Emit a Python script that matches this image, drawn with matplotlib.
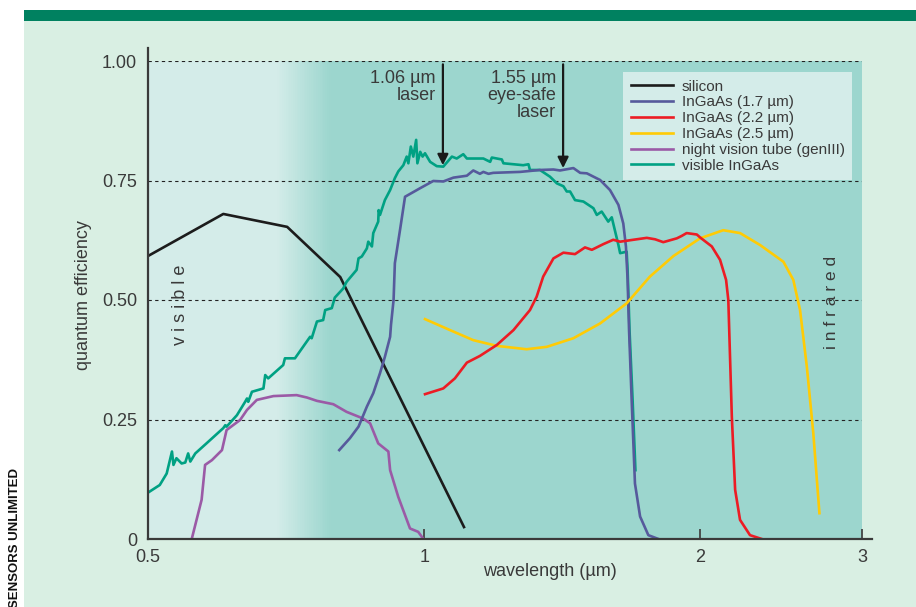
import matplotlib
matplotlib.use("Agg")
import matplotlib.pyplot as plt
import numpy as np
from matplotlib.patches import Rectangle
from matplotlib.colors import LinearSegmentedColormap
from matplotlib.ticker import FixedLocator, NullLocator

plt.rcParams['font.family'] = ['Liberation Sans', 'DejaVu Sans']

# wavelengths in um, quantum efficiency as fraction
silicon_wl = [0.500, 0.604, 0.709, 0.810, 1.105]
silicon_qe = [0.592, 0.680, 0.653, 0.548, 0.025]

ingaas17_wl = [0.808, 0.830, 0.848, 0.866, 0.880, 0.895, 0.906, 0.918, 0.920, 0.926,
               0.929, 0.941, 0.953, 0.990, 1.023, 1.049, 1.076, 1.113, 1.131, 1.150,
               1.160, 1.175, 1.189, 1.272, 1.337, 1.383, 1.406, 1.454, 1.479, 1.504,
               1.555, 1.594, 1.628, 1.648, 1.659, 1.666, 1.672, 1.683, 1.697, 1.719,
               1.755, 1.800]
ingaas17_qe = [0.186, 0.211, 0.235, 0.277, 0.305, 0.347, 0.381, 0.423, 0.448, 0.500,
               0.577, 0.646, 0.716, 0.734, 0.749, 0.748, 0.756, 0.760, 0.771, 0.764,
               0.768, 0.764, 0.766, 0.768, 0.772, 0.773, 0.771, 0.776, 0.766, 0.765,
               0.751, 0.730, 0.699, 0.660, 0.612, 0.542, 0.437, 0.291, 0.116, 0.047,
               0.008, 0.000]

ingaas22_wl = [1.002, 1.049, 1.080, 1.113, 1.150, 1.200, 1.251, 1.304, 1.326, 1.348,
               1.383, 1.418, 1.460, 1.497, 1.523, 1.568, 1.607, 1.635, 1.690, 1.748,
               1.785, 1.822, 1.885, 1.908, 1.932, 1.982, 1.998, 2.058, 2.101, 2.133,
               2.145, 2.164, 2.182, 2.209, 2.265, 2.333]
ingaas22_qe = [0.303, 0.315, 0.336, 0.369, 0.383, 0.406, 0.437, 0.479, 0.507, 0.549,
               0.587, 0.599, 0.596, 0.610, 0.605, 0.617, 0.626, 0.622, 0.626, 0.630,
               0.627, 0.621, 0.629, 0.634, 0.640, 0.637, 0.631, 0.612, 0.584, 0.542,
               0.500, 0.256, 0.103, 0.040, 0.008, 0.000]

ingaas25_wl = [1.002, 1.067, 1.131, 1.200, 1.293, 1.360, 1.454, 1.555, 1.662, 1.762,
               1.869, 1.998, 2.118, 2.209, 2.323, 2.463, 2.525, 2.568, 2.612, 2.655,
               2.696]
ingaas25_qe = [0.460, 0.437, 0.416, 0.404, 0.397, 0.402, 0.420, 0.451, 0.493, 0.549,
               0.592, 0.629, 0.646, 0.640, 0.615, 0.580, 0.542, 0.479, 0.361, 0.221,
               0.054]

nightvision_wl = [0.558, 0.572, 0.577, 0.587, 0.602, 0.609, 0.630, 0.641, 0.657, 0.685,
                  0.726, 0.745, 0.764, 0.796, 0.823, 0.858, 0.873, 0.891, 0.914, 0.918,
                  0.937, 0.965, 0.985, 0.998]
nightvision_qe = [0.000, 0.082, 0.155, 0.165, 0.186, 0.228, 0.249, 0.270, 0.291, 0.299,
                  0.301, 0.296, 0.289, 0.282, 0.266, 0.252, 0.242, 0.200, 0.183, 0.144,
                  0.088, 0.022, 0.015, 0.000]

visible_wl = [0.500, 0.515, 0.524, 0.531, 0.533, 0.537, 0.544, 0.549, 0.553, 0.556,
              0.563, 0.579, 0.604, 0.607, 0.609, 0.625, 0.638, 0.641, 0.643, 0.649,
              0.668, 0.671, 0.676, 0.702, 0.705, 0.723, 0.751, 0.754, 0.764, 0.776,
              0.780, 0.793, 0.799, 0.816, 0.823, 0.844, 0.848, 0.855, 0.866, 0.869,
              0.877, 0.880, 0.891, 0.892, 0.895, 0.906, 0.918, 0.929, 0.937, 0.949,
              0.957, 0.961, 0.967, 0.973, 0.980, 0.983, 0.990, 0.996, 1.002, 1.015,
              1.032, 1.049, 1.072, 1.085, 1.103, 1.113, 1.131, 1.160, 1.180, 1.185,
              1.215, 1.220, 1.251, 1.282, 1.299, 1.304, 1.337, 1.371, 1.395, 1.418,
              1.430, 1.442, 1.460, 1.491, 1.529, 1.542, 1.561, 1.587, 1.601, 1.628,
              1.635, 1.662, 1.666, 1.674, 1.687, 1.699]
visible_qe = [0.097, 0.113, 0.137, 0.183, 0.155, 0.169, 0.158, 0.160, 0.179, 0.162,
              0.179, 0.200, 0.232, 0.238, 0.235, 0.259, 0.287, 0.294, 0.287, 0.308,
              0.315, 0.343, 0.336, 0.364, 0.378, 0.378, 0.423, 0.420, 0.455, 0.458,
              0.479, 0.483, 0.505, 0.524, 0.538, 0.563, 0.587, 0.591, 0.608, 0.622,
              0.612, 0.640, 0.664, 0.688, 0.678, 0.709, 0.730, 0.755, 0.769, 0.782,
              0.800, 0.786, 0.821, 0.800, 0.835, 0.786, 0.810, 0.800, 0.807, 0.789,
              0.780, 0.779, 0.800, 0.796, 0.805, 0.796, 0.796, 0.796, 0.789, 0.798,
              0.794, 0.786, 0.784, 0.782, 0.784, 0.772, 0.772, 0.758, 0.744, 0.738,
              0.727, 0.727, 0.709, 0.706, 0.692, 0.678, 0.685, 0.664, 0.673, 0.615,
              0.598, 0.601, 0.563, 0.437, 0.291, 0.144]

series_labels = ['silicon', 'InGaAs (1.7 µm)', 'InGaAs (2.2 µm)', 'InGaAs (2.5 µm)',
                 'night vision tube (genIII)', 'visible InGaAs']
series_colors = ['#1c1c1c', '#565a9c', '#ec1c24', '#ffcb05', '#9b5aa6', '#00a183']

x_ticks = [0.5, 1, 2, 3]
x_ticklabels = ['0.5', '1', '2', '3']
y_ticks = [0, 0.25, 0.5, 0.75, 1.0]
y_ticklabels = ['0', '0.25', '0.50', '0.75', '1.00']

# laser markers: arrow position, text anchor, label
laser_x = [1.048, 1.417]
laser_text_x = [1.030, 1.392]
laser_tip = [0.782, 0.776]
laser_labels = ['1.06 µm\nlaser', '1.55 µm\neye-safe\nlaser']

mint = '#d9efe3'
bar = '#008160'
light_bg = '#d4ece9'
teal_bg = '#9cd6ce'
text_col = '#3a3a3a'

W, H = 916, 607
fig = plt.figure(figsize=(W / 100, H / 100), dpi=100)
fig.patch.set_facecolor('white')
fig.add_artist(Rectangle((24 / W, 0), 1 - 24 / W, 1 - 21 / H, transform=fig.transFigure,
                         facecolor=mint, edgecolor='none', zorder=-10))
fig.add_artist(Rectangle((24 / W, 1 - 21 / H), 1 - 24 / W, 11 / H, transform=fig.transFigure,
                         facecolor=bar, edgecolor='none', zorder=-10))

ax = fig.add_axes([148 / W, 1 - 539 / H, 714 / W, 478 / H])
ax.set_xscale('log')
ax.set_xlim(0.5, 3)
ax.set_ylim(0, 1)
ax.patch.set_visible(False)
for s in ax.spines.values():
    s.set_visible(False)

# background: light "visible" zone fading into teal "infrared" zone
bg_x = np.geomspace(0.5, 3, 400)
mid = np.sqrt(bg_x[:-1] * bg_x[1:])
t = np.clip((np.log(mid) - np.log(0.69)) / (np.log(0.79) - np.log(0.69)), 0, 1)
cmap = LinearSegmentedColormap.from_list('bg', [light_bg, teal_bg])
ax.pcolormesh(bg_x, [0, 1], t[np.newaxis, :], cmap=cmap, vmin=0, vmax=1,
              shading='flat', zorder=0, edgecolor='none')

for v in y_ticks[1:]:
    ax.axhline(v, color='#222222', lw=0.8, ls=(0, (3, 3)), zorder=1)

# axis lines, drawn by hand to overhang like the original
ax.plot([0, 1.014], [0, 0], transform=ax.transAxes, color='#3a3a3a', lw=1.6,
        clip_on=False, zorder=6)
ax.plot([0, 0], [0, 1.027], transform=ax.transAxes, color='#3a3a3a', lw=1.6,
        clip_on=False, zorder=6)

lw = 1.9
h_si, = ax.plot(silicon_wl, silicon_qe, color=series_colors[0], lw=lw, zorder=3)
h_nv, = ax.plot(nightvision_wl, nightvision_qe, color=series_colors[4], lw=lw, zorder=3)
h_vis, = ax.plot(visible_wl, visible_qe, color=series_colors[5], lw=lw, zorder=3)
h_17, = ax.plot(ingaas17_wl, ingaas17_qe, color=series_colors[1], lw=lw, zorder=4)
h_25, = ax.plot(ingaas25_wl, ingaas25_qe, color=series_colors[3], lw=lw, zorder=4)
h_22, = ax.plot(ingaas22_wl, ingaas22_qe, color=series_colors[2], lw=lw, zorder=4)

ax.xaxis.set_major_locator(FixedLocator(x_ticks))
ax.xaxis.set_minor_locator(NullLocator())
ax.set_xticklabels(x_ticklabels)
ax.set_yticks(y_ticks)
ax.set_yticklabels(y_ticklabels)
ax.tick_params(axis='x', direction='in', length=7, width=1.3, color='#444444',
               labelsize=13, labelcolor=text_col, pad=7)
ax.tick_params(axis='y', length=0, labelsize=13, labelcolor=text_col, pad=8)

ax.set_xlabel('wavelength (µm)', fontsize=13, color=text_col)
ax.xaxis.set_label_coords((550 - 148) / 714, (539 - 563) / 478)
ax.set_ylabel('quantum efficiency', fontsize=13, color=text_col)
ax.yaxis.set_label_coords((92 - 148) / 714, (539 - 295) / 478)

for x, tx, tip, lab in zip(laser_x, laser_text_x, laser_tip, laser_labels):
    ax.annotate('', xy=(x, tip), xytext=(x, 0.993),
                arrowprops=dict(arrowstyle='-|>', color='#1a1a1a', lw=1.6,
                                mutation_scale=16, shrinkA=0, shrinkB=0), zorder=7)
    ax.text(tx, 0.982, lab, ha='right', va='top', fontsize=13, color=text_col,
            linespacing=1.0, zorder=7)

ax.text(0.542, 0.49, 'v i s i b l e', rotation=90, ha='center', va='center',
        fontsize=13, color=text_col, zorder=2)
ax.text(2.78, 0.495, 'i n f r a r e d', rotation=90, ha='center', va='center',
        fontsize=12.5, color=text_col, zorder=2)

leg = ax.legend([h_si, h_17, h_22, h_25, h_nv, h_vis], series_labels,
                loc='upper left', bbox_to_anchor=((623 - 148) / 714, (539 - 72) / 478),
                frameon=True, fancybox=False, facecolor=light_bg, edgecolor='none',
                framealpha=1, fontsize=11, handlelength=2.8, handletextpad=0.55,
                labelspacing=0.12, borderpad=0.5, borderaxespad=0)
for txt in leg.get_texts():
    txt.set_color(text_col)
leg.set_zorder(8)

fig.text(15 / W, 1 - 468 / H, 'SENSORS UNLIMITED', rotation=90, ha='center', va='top',
         fontsize=9.5, fontweight='bold', color='#111111')

fig.savefig('out.png', dpi=100)
